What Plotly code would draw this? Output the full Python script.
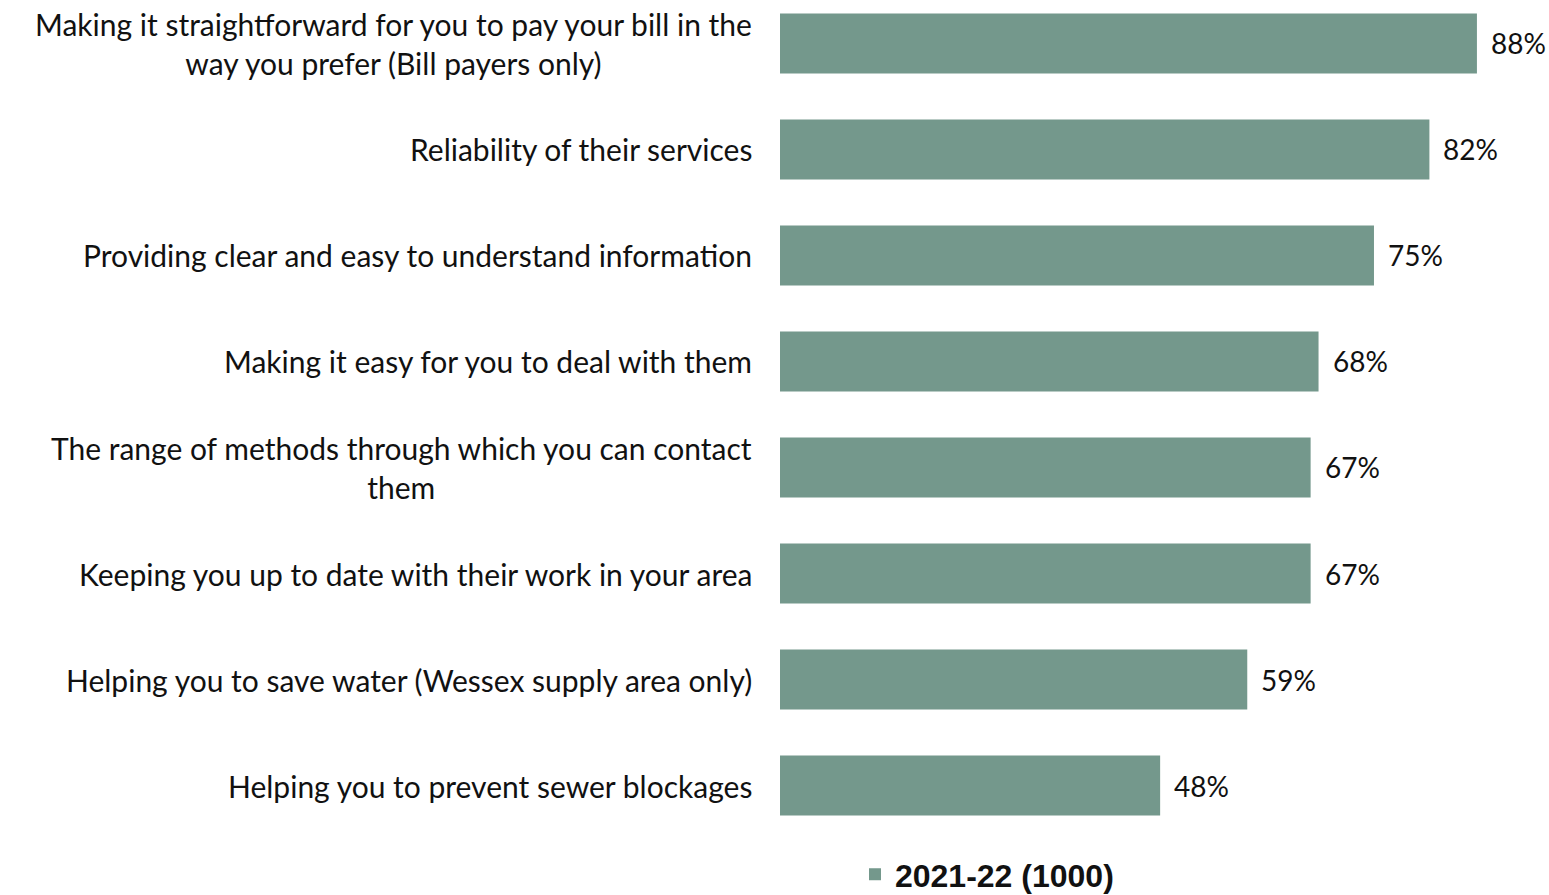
import plotly.graph_objects as go

# Satisfaction with aspects of service, 2021-22 survey (base 1000)
categories = [
    "Making it straightforward for you to pay your bill in the<br>way you prefer (Bill payers only)",
    "Reliability of their services",
    "Providing clear and easy to understand information",
    "Making it easy for you to deal with them",
    "The range of methods through which you can contact<br>them",
    "Keeping you up to date with their work in your area",
    "Helping you to save water (Wessex supply area only)",
    "Helping you to prevent sewer blockages",
]
values = [88, 82, 75, 68, 67, 67, 59, 48]
series_name = "2021-22 (1000)"

BAR_COLOR = "#74988C"
LABEL_FONT = "Lato"

fig = go.Figure()
fig.add_trace(go.Bar(
    x=values,
    y=categories,
    orientation="h",
    name=series_name,
    marker=dict(color=BAR_COLOR, line=dict(width=0)),
    width=0.566,
    showlegend=True,
))

annotations = []
# Category labels: right-aligned block, lines centred within it
for cat in categories:
    annotations.append(dict(
        x=0, xref="paper", y=cat, yref="y",
        text=cat, showarrow=False,
        xanchor="right", yanchor="middle", align="center",
        xshift=-26,
        font=dict(family=LABEL_FONT, size=30, color="#111111"),
    ))
# Value labels at bar ends
for cat, v in zip(categories, values):
    annotations.append(dict(
        x=v, xref="x", y=cat, yref="y",
        text=f"{v}%", showarrow=False,
        xanchor="left", yanchor="middle",
        xshift=12,
        font=dict(family=LABEL_FONT, size=28, color="#111111"),
    ))

fig.update_layout(
    width=1549, height=895,
    margin=dict(l=780, r=0, t=0, b=55, pad=0, autoexpand=False),
    paper_bgcolor="white", plot_bgcolor="white",
    xaxis=dict(range=[0, 97.1], visible=False, fixedrange=True),
    yaxis=dict(
        type="category",
        categoryorder="array", categoryarray=categories,
        range=[7.514, -0.41],
        showticklabels=False, showgrid=False, zeroline=False,
        showline=False, ticks="",
    ),
    legend=dict(
        orientation="h",
        x=0.0975, xanchor="left",
        y=-0.041, yanchor="middle",
        borderwidth=0,
        font=dict(family="Liberation Sans", size=32, color="#111111", weight="bold"),
    ),
    annotations=annotations,
)

fig.write_html("out.html")
